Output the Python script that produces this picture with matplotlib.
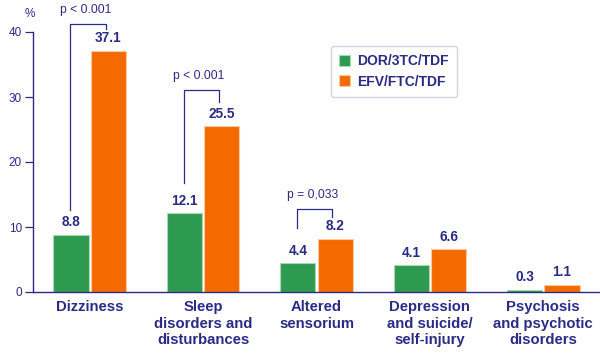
#! /usr/bin/env python3

import numpy as np
import matplotlib
matplotlib.use("Agg")
import matplotlib.pyplot as plt

plt.rcParams['font.family'] = ['Liberation Sans', 'DejaVu Sans']

# data
categories = ['Dizziness', 'Sleep\ndisorders and\ndisturbances', 'Altered\nsensorium',
              'Depression\nand suicide/\nself-injury', 'Psychosis\nand psychotic\ndisorders']
dor_values = [8.8, 12.1, 4.4, 4.1, 0.3]
efv_values = [37.1, 25.5, 8.2, 6.6, 1.1]
series_names = ['DOR/3TC/TDF', 'EFV/FTC/TDF']
y_ticks = [0, 10, 20, 30, 40]

# p-value brackets: category, text, left bottom, top, right bottom
p_labels = ['p < 0.001', 'p < 0.001', 'p = 0,033']
p_categories = [0, 1, 2]
p_left_low = [12.6, 16.8, 9.8]
p_top = [41.3, 31.1, 12.8]
p_right_low = [40.4, 29.2, 11.5]

NAVY = '#2B2B86'
GREEN = '#2E9A50'
ORANGE = '#F56A00'

fig = plt.figure(figsize=(6, 3.58), dpi=100)
ax = fig.add_axes([33 / 600, 66 / 358, 567 / 600, 260 / 358])

x = np.arange(len(categories))
w = 0.31
off = 0.165
ax.bar(x - off, dor_values, w, color=GREEN, edgecolor='#A8D8B4', linewidth=0.8, label=series_names[0])
ax.bar(x + off, efv_values, w, color=ORANGE, edgecolor='#FCC9A0', linewidth=0.8, label=series_names[1])

# value labels above the bars
for xi, v in zip(x, dor_values):
    ax.annotate(f'{v:.1f}', (xi - off, v), xytext=(0, 4), textcoords='offset points',
                ha='center', va='bottom', fontsize=9.8, fontweight='bold', color=NAVY)
for xi, v in zip(x, efv_values):
    ax.annotate(f'{v:.1f}', (xi + off, v), xytext=(0, 4), textcoords='offset points',
                ha='center', va='bottom', fontsize=9.8, fontweight='bold', color=NAVY)

# brackets
for txt, c, lo, top, ro in zip(p_labels, p_categories, p_left_low, p_top, p_right_low):
    xl = c - 0.17
    xr = c + 0.14
    ax.plot([xl, xl, xr, xr], [lo, top, top, ro], color=NAVY, lw=0.9, clip_on=False)
    ax.text((xl + xr) / 2 - 0.02, top + 1.2, txt, ha='center', va='bottom',
            fontsize=8.7, color=NAVY)

ax.set_xlim(-0.5, 4.5)
ax.set_ylim(0, 40)
ax.set_yticks(y_ticks)
ax.set_xticks(x)
ax.set_xticklabels(categories, fontsize=10.7, fontweight='bold', color=NAVY, linespacing=1.2)
ax.tick_params(axis='x', length=0, pad=6)
ax.tick_params(axis='y', length=6, width=0.9, color=NAVY, labelcolor=NAVY, labelsize=8.5, pad=2)

for s in ['top', 'right']:
    ax.spines[s].set_visible(False)
for s in ['left', 'bottom']:
    ax.spines[s].set_color(NAVY)
    ax.spines[s].set_linewidth(1.0)

fig.text(30 / 600, 1 - 14 / 358, '%', ha='center', va='center', fontsize=8.5, color=NAVY)

leg = fig.legend(loc='upper left', bbox_to_anchor=(324 / 600, 1 - 39 / 358), fontsize=10,
                 frameon=True, fancybox=True, shadow=False, handlelength=0.8, handleheight=0.8,
                 handletextpad=0.5, borderpad=0.6, labelspacing=0.45, edgecolor='#C8C8E0')
for t in leg.get_texts():
    t.set_color(NAVY)
    t.set_fontweight('bold')

fig.savefig('out.png', dpi=100)
